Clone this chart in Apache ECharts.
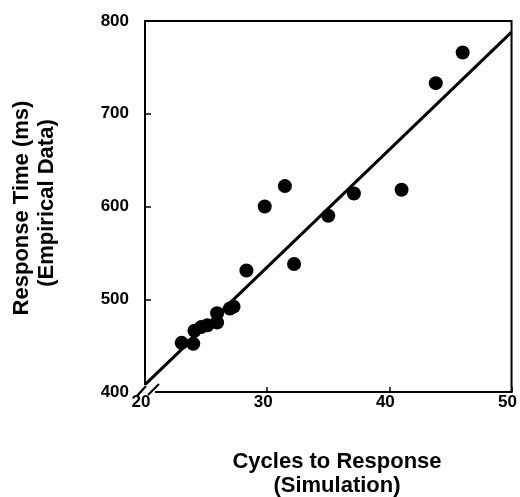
<!DOCTYPE html>
<html>
<head>
<meta charset="utf-8">
<script src="https://cdn.jsdelivr.net/npm/echarts@6/dist/echarts.min.js"></script>
<style>html,body{margin:0;padding:0;background:#fff;}#c{width:520px;height:497px;}</style>
</head>
<body>
<div id="c"></div>
<script>
// Data
var cycles = [23.0, 23.95, 24.05, 24.6, 25.1, 25.9, 25.9, 26.95, 27.25, 28.3, 29.8, 31.45, 32.2, 35.0, 37.1, 41.0, 43.8, 46.0];
var responseTimes = [453, 452, 466, 470, 472, 475, 485, 490, 492, 531, 600, 622, 538, 590, 614, 618, 733, 766];
var fitX = [20, 50];
var fitY = [408, 788];
var xTicks = [20, 30, 40, 50];
var yTicks = [400, 500, 600, 700, 800];

var FONT = '"Liberation Sans", Arial, Helvetica, sans-serif';
var chart = echarts.init(document.getElementById('c'), null, {renderer: 'canvas'});

var points = cycles.map(function (c, i) { return [c, responseTimes[i]]; });
var fitLine = fitX.map(function (x, i) { return [x, fitY[i]]; });

var option = {
  backgroundColor: '#fff',
  animation: false,
  grid: {left: 145, right: 8, top: 21, bottom: 105, show: true, borderColor: '#000', borderWidth: 2, backgroundColor: 'transparent'},
  xAxis: {
    type: 'value', min: 20, max: 50, interval: 10,
    axisLine: {show: true, lineStyle: {color: '#000', width: 2}},
    axisTick: {show: true, inside: true, length: 5, lineStyle: {color: '#000', width: 1.5}},
    splitLine: {show: false},
    axisLabel: {color: '#000', fontFamily: FONT, fontWeight: 'bold', fontSize: 17, margin: 2, padding: [0, 8, 0, 0],
      formatter: function (v) { return xTicks.indexOf(v) >= 0 ? String(v) : ''; }}
  },
  yAxis: {
    type: 'value', min: 400, max: 800, interval: 100,
    axisLine: {show: true, lineStyle: {color: '#000', width: 2}},
    axisTick: {show: true, inside: true, length: 6, lineStyle: {color: '#000', width: 1.5}},
    splitLine: {show: false},
    axisLabel: {color: '#000', fontFamily: FONT, fontWeight: 'bold', fontSize: 17, margin: 16,
      formatter: function (v) { return yTicks.indexOf(v) >= 0 ? String(v) : ''; }}
  },
  series: [
    {
      type: 'line', data: fitLine, symbol: 'none', z: 2,
      lineStyle: {color: '#000', width: 3}
    },
    {
      type: 'scatter', data: points, symbol: 'circle', symbolSize: 14, z: 3,
      itemStyle: {color: '#000', opacity: 1}
    }
  ]
};
chart.setOption(option);

function addDecor() {
  var c = chart.convertToPixel({gridIndex: 0}, [20, 400]);
  var cx = c[0], cy = c[1];
  var tf = 'bold 22px ' + FONT;
  chart.setOption({
    graphic: [
      {type: 'rect', z: 100, shape: {x: cx - 3, y: cy - 7, width: 13, height: 10}, style: {fill: '#fff'}},
      {type: 'line', z: 101, shape: {x1: cx - 8, y1: cy + 4, x2: cx + 1, y2: cy - 6}, style: {stroke: '#000', lineWidth: 2.2}},
      {type: 'line', z: 101, shape: {x1: cx + 3, y1: cy + 3, x2: cx + 14, y2: cy - 8}, style: {stroke: '#000', lineWidth: 2.2}},
      {type: 'text', z: 102, x: 337, y: 462, style: {text: 'Cycles to Response', font: tf, fill: '#000', textAlign: 'center', textVerticalAlign: 'middle'}},
      {type: 'text', z: 102, x: 337, y: 486, style: {text: '(Simulation)', font: tf, fill: '#000', textAlign: 'center', textVerticalAlign: 'middle'}},
      {type: 'text', z: 102, x: 22, y: 208, rotation: Math.PI / 2, style: {text: 'Response Time (ms)', font: tf, fill: '#000', textAlign: 'center', textVerticalAlign: 'middle'}},
      {type: 'text', z: 102, x: 47, y: 203, rotation: Math.PI / 2, style: {text: '(Empirical Data)', font: tf, fill: '#000', textAlign: 'center', textVerticalAlign: 'middle'}}
    ]
  });
}
addDecor();
</script>
</body>
</html>
